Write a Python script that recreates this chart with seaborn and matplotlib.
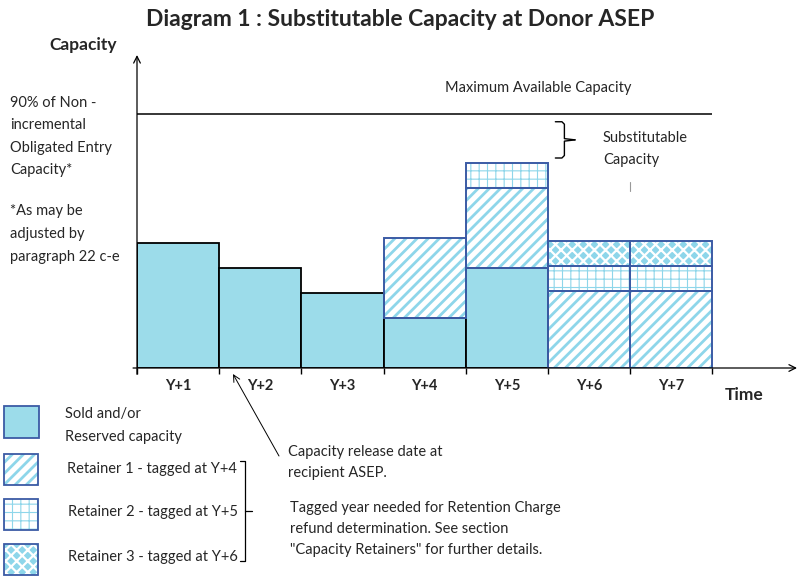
import matplotlib
matplotlib.use("Agg")
import matplotlib.pyplot as plt
import numpy as np
import seaborn as sns
from matplotlib.patches import Rectangle

# ---- data -------------------------------------------------------------
years = ["Y+1", "Y+2", "Y+3", "Y+4", "Y+5", "Y+6", "Y+7"]
sold = [5.0, 4.0, 3.0, 2.0, 4.0, 0.0, 0.0]
retainer1 = [0.0, 0.0, 0.0, 3.2, 3.2, 3.1, 3.1]
retainer2 = [0.0, 0.0, 0.0, 0.0, 1.0, 1.0, 1.0]
retainer3 = [0.0, 0.0, 0.0, 0.0, 0.0, 1.0, 1.0]
max_capacity = 10.15

SOLD_FILL = "#9CDCEA"
HATCH_BLUE = "#8ED6EA"
EDGE_BLUE = "#3B5BA5"

# hatch styles: (pattern, fill, hatch colour, hatch linewidth)
R1_STYLE = ("///", "white", HATCH_BLUE, 2.0)
R2_STYLE = ("++", "white", HATCH_BLUE, 0.8)
R3_STYLE = ("xxx", HATCH_BLUE, "white", 1.6)

sns.set_theme(style="white")
plt.rcParams["font.family"] = ["Lato", "DejaVu Sans"]

fig = plt.figure(figsize=(7.97, 5.76), dpi=100)
W, H = 797, 576
ax = fig.add_axes([137 / W, (H - 368) / H, (W - 137) / W, (368 - 55) / H])
ax.set_xlim(0, 8.03)
ax.set_ylim(0, (368 - 55) / 25)
for s in ax.spines.values():
    s.set_visible(False)
ax.set_yticks([])

x = np.arange(len(years)) + 0.5


def hatched(axis, xs, heights, bottoms, style, edge):
    hatch, fill, hcolor, hlw = style
    bars = axis.bar(xs, heights, width=1.0, bottom=bottoms, color=fill,
                    edgecolor=hcolor, linewidth=0, hatch=hatch, zorder=2)
    for b in bars:
        if hasattr(b, "set_hatch_linewidth"):
            b.set_hatch_linewidth(hlw)
    axis.bar(xs, heights, width=1.0, bottom=bottoms, fill=False,
             edgecolor=edge, linewidth=1.4, zorder=3)


s = np.array(sold)
r1 = np.array(retainer1)
r2 = np.array(retainer2)
r3 = np.array(retainer3)

m = s > 0
ax.bar(x[m], s[m], width=1.0, color=SOLD_FILL, edgecolor="black", linewidth=1.3, zorder=3)
m = r1 > 0
hatched(ax, x[m], r1[m], s[m], R1_STYLE, EDGE_BLUE)
m = r2 > 0
hatched(ax, x[m], r2[m], (s + r1)[m], R2_STYLE, EDGE_BLUE)
m = r3 > 0
hatched(ax, x[m], r3[m], (s + r1 + r2)[m], R3_STYLE, EDGE_BLUE)

ax.hlines(max_capacity, 0, len(years), color="black", linewidth=1.1)

# axes with arrows
ax.annotate("", xy=(1, 0), xytext=(-0.006, 0), xycoords="axes fraction",
            arrowprops=dict(arrowstyle="->", color="black", lw=0.9, shrinkA=0, shrinkB=0))
ax.annotate("", xy=(0, 1), xytext=(0, -0.02), xycoords="axes fraction",
            arrowprops=dict(arrowstyle="->", color="black", lw=0.9, shrinkA=0, shrinkB=0))

ax.set_xticks(x)
ax.set_xticklabels(years, fontweight="bold", fontsize=10.5)
ax.set_xticks(np.arange(len(years) + 1), minor=True)
ax.tick_params(axis="x", which="major", length=0, pad=8)
ax.tick_params(axis="x", which="minor", length=4, width=1, color="black", direction="out", bottom=True)

# brace for substitutable capacity
top = (s + r1 + r2 + r3)[4]
y0, y1 = top + 0.2, max_capacity - 0.3
ym = (y0 + y1) / 2
xa, xb, xc = 5.09, 5.2, 5.33
ax.plot([xa, xb - 0.03, xb, xb, xc], [y1, y1, y1 - 0.1, ym + 0.05, ym], color="black", lw=1, zorder=4)
ax.plot([xa, xb - 0.03, xb, xb, xc], [y0, y0, y0 + 0.1, ym - 0.05, ym], color="black", lw=1, zorder=4)
ax.plot([6.0, 6.0], [7.1, 7.45], color="#999999", lw=0.8)

# ---- overlay for text and legend ---------------------------------------
ov = fig.add_axes([0, 0, 1, 1], zorder=5)
ov.set_xlim(0, W)
ov.set_ylim(H, 0)
ov.axis("off")
ov.patch.set_alpha(0)

ov.text(400, 20, "Diagram 1 : Substitutable Capacity at Donor ASEP", ha="center", va="center",
        fontsize=16.5, fontweight="bold")
ov.text(83, 45, "Capacity", ha="center", va="center", fontsize=12.5, fontweight="bold")
ov.text(744, 395, "Time", ha="center", va="center", fontsize=12.5, fontweight="bold")


def lines(xp, y, step, rows, **kw):
    for i, t in enumerate(rows):
        ov.text(xp, y + i * step, t, ha="left", va="center", fontsize=10.5, **kw)


lines(10, 103, 22.3, ["90% of Non -", "incremental", "Obligated Entry", "Capacity*"])
lines(10, 211, 23, ["*As may be", "adjusted by", "paragraph 22 c-e"])
lines(445, 88, 0, ["Maximum Available Capacity"])
lines(603, 138, 22, ["Substitutable", "Capacity"])
lines(288, 452, 21, ["Capacity release date at", "recipient ASEP."])
lines(290, 508, 21, ["Tagged year needed for Retention Charge",
                     "refund determination. See section",
                     "\"Capacity Retainers\" for further details."])
lines(65, 414, 23, ["Sold and/or", "Reserved capacity"])
lines(67, 469, 0, ["Retainer 1 - tagged at Y+4"])
lines(68, 512, 0, ["Retainer 2 - tagged at Y+5"])
lines(68, 557, 0, ["Retainer 3 - tagged at Y+6"])

ov.annotate("", xy=(233, 374), xytext=(279, 456),
            arrowprops=dict(arrowstyle="->", color="black", lw=0.7, shrinkA=0, shrinkB=0))

# legend boxes
ov.add_patch(Rectangle((4, 406), 35, 32, facecolor=SOLD_FILL, edgecolor=EDGE_BLUE, lw=1.3))
for y, style in [(454, R1_STYLE), (499, R2_STYLE), (544, R3_STYLE)]:
    hatch, fc, hc, hlw = style
    p = Rectangle((4, y), 34, 31, facecolor=fc, edgecolor=hc, lw=0, hatch=hatch)
    if hasattr(p, "set_hatch_linewidth"):
        p.set_hatch_linewidth(hlw)
    ov.add_patch(p)
    ov.add_patch(Rectangle((4, y), 34, 31, fill=False, edgecolor=EDGE_BLUE, lw=1.3))

# legend bracket
ov.plot([240, 245, 245, 240], [461, 461, 561, 561], color="black", lw=0.9)
ov.plot([245, 252], [511, 511], color="black", lw=0.9)

fig.savefig("out.png", dpi=100)
